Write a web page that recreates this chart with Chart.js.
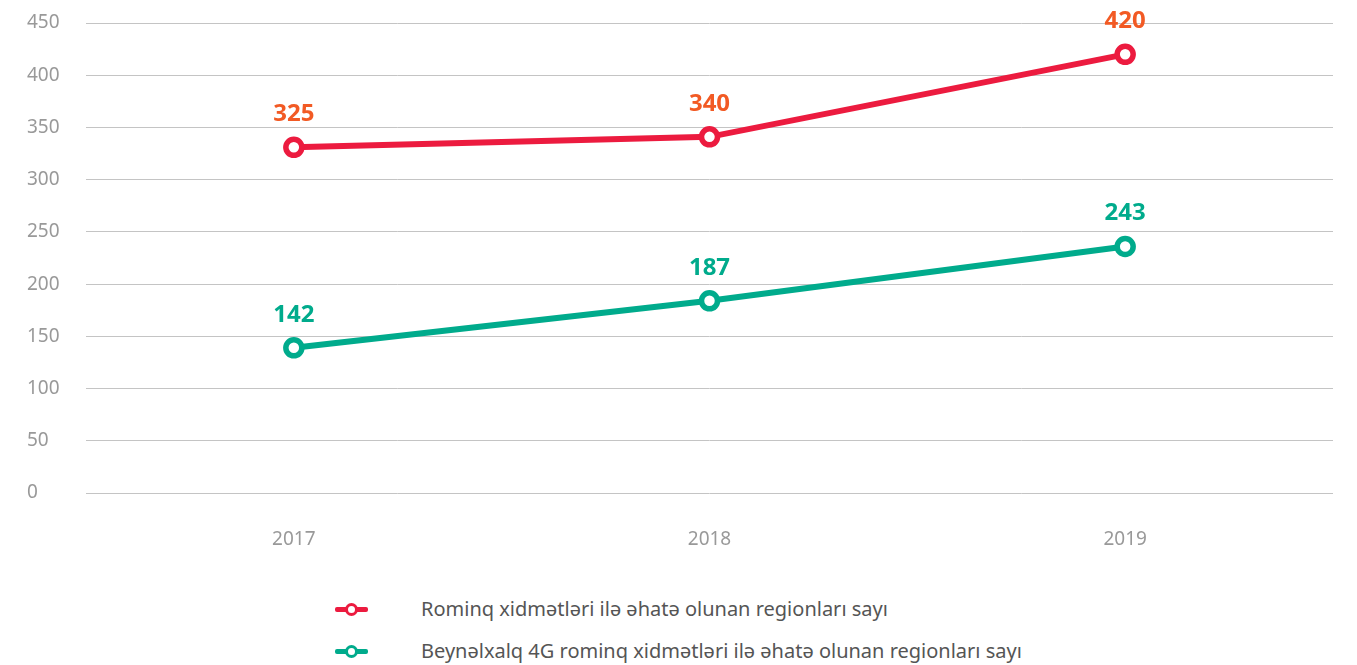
<!DOCTYPE html>
<html>
<head>
<meta charset="utf-8">
<script src="https://cdn.jsdelivr.net/npm/chart.js@4/dist/chart.umd.min.js"></script>
<style>
  html, body { margin: 0; padding: 0; background: #fff; }
  body { width: 1357px; height: 665px; position: relative; overflow: hidden; font-family: "Noto Sans", "Open Sans", sans-serif; }
  #wrap { position: absolute; left: 0; top: 0; width: 1357px; height: 570px; }
  #legend { position: absolute; left: 335px; top: 592px; }
  .item { position: relative; height: 42px; line-height: 34px; font-size: 20px; color: #555; white-space: nowrap; }
  .icon { position: absolute; left: 0; top: 15px; width: 33px; height: 5px; border-radius: 2px; }
  .dot { position: absolute; left: 10px; top: -4px; width: 7px; height: 7px; border-radius: 50%; background: #fff; border-width: 3px; border-style: solid; }
  .txt { position: absolute; left: 86px; top: 0; }
</style>
</head>
<body>
<div id="wrap"><canvas id="c" width="1357" height="570"></canvas></div>
<div id="legend"></div>
<script>
const categories = ["2017", "2018", "2019"];
const seriesNames = [
  "Rominq xidmətləri ilə əhatə olunan regionları sayı",
  "Beynəlxalq 4G rominq xidmətləri ilə əhatə olunan regionları sayı"
];
// plotted positions
const roamingValues = [331, 341, 420];
const roaming4gValues = [139, 184, 236];
// value labels as printed in the picture
const roamingLabels = ["325", "340", "420"];
const roaming4gLabels = ["142", "187", "243"];
const yTicks = [0, 50, 100, 150, 200, 250, 300, 350, 400, 450];

const colors = {
  red: "#EC1B3F", redLabel: "#F25A24",
  green: "#00AB8C", greenLabel: "#00AB8C"
};

const valueLabelPlugin = {
  id: "valueLabels",
  afterDatasetsDraw(chart) {
    const ctx = chart.ctx;
    ctx.save();
    ctx.font = "bold 24px 'Noto Sans', sans-serif";
    ctx.textAlign = "center";
    ctx.textBaseline = "middle";
    chart.data.datasets.forEach((ds, i) => {
      const meta = chart.getDatasetMeta(i);
      meta.data.forEach((pt, j) => {
        ctx.fillStyle = ds.labelColor;
        ctx.fillText(ds.valueLabels[j], pt.x, pt.y - 33);
      });
    });
    ctx.restore();
  }
};

new Chart(document.getElementById("c"), {
  type: "line",
  data: {
    labels: categories,
    datasets: [
      {
        label: seriesNames[0], data: roamingValues, valueLabels: roamingLabels, labelColor: colors.redLabel,
        borderColor: colors.red, borderWidth: 6, pointRadius: 8, pointBorderWidth: 5.5,
        pointBackgroundColor: "#fff", pointBorderColor: colors.red, tension: 0, clip: false
      },
      {
        label: seriesNames[1], data: roaming4gValues, valueLabels: roaming4gLabels, labelColor: colors.greenLabel,
        borderColor: colors.green, borderWidth: 6, pointRadius: 8, pointBorderWidth: 5.5,
        pointBackgroundColor: "#fff", pointBorderColor: colors.green, tension: 0, clip: false
      }
    ]
  },
  options: {
    responsive: false,
    animation: false,
    events: [],
    layout: { padding: { left: 27, right: 24, top: 23, bottom: 17 } },
    plugins: { legend: { display: false }, tooltip: { enabled: false } },
    scales: {
      x: {
        offset: true,
        grid: { display: false },
        border: { display: false },
        ticks: { color: "#999", font: { size: 19, family: "'Noto Sans', sans-serif" }, padding: 27 },
        afterFit(s) { s.height = 60; }
      },
      y: {
        min: 0, max: 450,
        afterBuildTicks(s) { s.ticks = yTicks.map(v => ({ value: v })); },
        grid: { color: "#c4c4c4", lineWidth: 1, drawTicks: false },
        border: { display: false },
        ticks: { color: "#999", crossAlign: "far", font: { size: 19, family: "'Noto Sans', sans-serif" } },
        afterFit(s) { s.width = 59; }
      }
    }
  },
  plugins: [valueLabelPlugin]
});

const legend = document.getElementById("legend");
[colors.red, colors.green].forEach((c, i) => {
  const item = document.createElement("div");
  item.className = "item";
  item.innerHTML = '<span class="icon" style="background:' + c + '"><span class="dot" style="border-color:' + c + '"></span></span><span class="txt"></span>';
  item.querySelector(".txt").textContent = seriesNames[i];
  legend.appendChild(item);
});
</script>
</body>
</html>
